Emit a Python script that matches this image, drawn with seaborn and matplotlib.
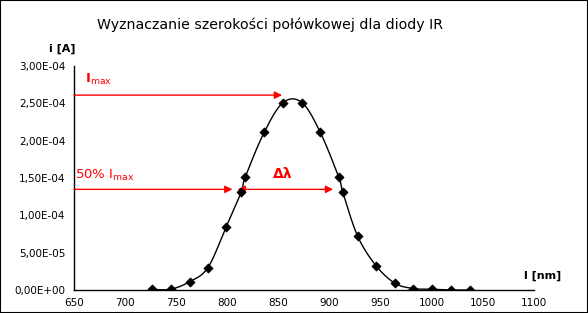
import numpy as np
import pandas as pd
import matplotlib
matplotlib.use("Agg")
import matplotlib.pyplot as plt
from matplotlib.patches import Rectangle
import seaborn as sns

# ---- data ----
wavelength_nm = [726, 744.5, 763, 781, 799, 813.5, 817.5, 836, 854.5, 873,
                 891, 909, 913, 927.5, 945.5, 964, 982, 1000, 1018.5, 1037]
current_A = [1e-6, 1e-6, 1.1e-5, 3.0e-5, 8.5e-5, 1.31e-4, 1.51e-4, 2.11e-4, 2.51e-4, 2.51e-4,
             2.11e-4, 1.51e-4, 1.31e-4, 7.2e-5, 3.25e-5, 9e-6, 2e-6, 1e-6, 0.0, 0.0]
x_ticks = [650, 700, 750, 800, 850, 900, 950, 1000, 1050, 1100]
y_ticks = [0, 5e-5, 1e-4, 1.5e-4, 2e-4, 2.5e-4, 3e-4]
i_max_level = 2.61e-4
half_level = 1.348e-4
half_left_nm = 805
fwhm_start_nm = 810
fwhm_end_nm = 903.5
imax_arrow_end_nm = 853.5

title = "Wyznaczanie szerokości połówkowej dla diody IR"
y_label = "i [A]"
x_label = "l [nm]"

df = pd.DataFrame({"wl": wavelength_nm, "i": current_A})


def catmull_rom(xs, ys, n=16):
    P = np.column_stack([xs, ys]).astype(float)
    out = []
    m = len(P)
    for k in range(m - 1):
        p0 = P[k - 1] if k > 0 else P[k]
        p1, p2 = P[k], P[k + 1]
        p3 = P[k + 2] if k + 2 < m else P[k + 1]
        t = np.linspace(0, 1, n, endpoint=(k == m - 2))[:, None]
        seg = 0.5 * ((2 * p1) + (-p0 + p2) * t + (2 * p0 - 5 * p1 + 4 * p2 - p3) * t ** 2
                     + (-p0 + 3 * p1 - 3 * p2 + p3) * t ** 3)
        out.append(seg)
    S = np.vstack(out)
    return S[:, 0], S[:, 1]


sx, sy = catmull_rom(df["wl"].values, df["i"].values)
smooth = pd.DataFrame({"wl": sx, "i": sy})

sns.set_theme(style="white")
plt.rcParams["font.family"] = ["DejaVu Sans"]
plt.rcParams["text.color"] = "black"

fig = plt.figure(figsize=(5.88, 3.13), dpi=100)
ax = fig.add_axes([74 / 588, 23 / 313, 460 / 588, 224 / 313])

sns.lineplot(data=smooth, x="wl", y="i", ax=ax, color="black", lw=1, sort=False,
             estimator=None)
sns.scatterplot(data=df, x="wl", y="i", ax=ax, color="black", marker="D", s=22,
                edgecolor="black", linewidth=0.5, zorder=5)

ax.set_xlim(650, 1100)
ax.set_ylim(0, 3e-4)
ax.set_xticks(x_ticks)
ax.set_yticks(y_ticks)
ax.set_yticklabels([f"{v:.2E}".replace(".", ",") for v in y_ticks])
ax.set_xlabel("")
ax.set_ylabel("")
for s in ["top", "right"]:
    ax.spines[s].set_visible(False)
for s in ["left", "bottom"]:
    ax.spines[s].set_color("black")
    ax.spines[s].set_linewidth(1)
ax.tick_params(axis="both", which="major", direction="out", length=4, width=1,
               color="black", labelsize=7.5, labelcolor="black", pad=2)

red = "#ff0000"
arrow_kw = dict(color=red, lw=1, shrinkA=0, shrinkB=0, mutation_scale=11)
ax.annotate("", xy=(imax_arrow_end_nm, i_max_level), xytext=(650, i_max_level),
            arrowprops=dict(arrowstyle="-|>", **arrow_kw), annotation_clip=False)
ax.annotate("", xy=(half_left_nm, half_level), xytext=(650, half_level),
            arrowprops=dict(arrowstyle="-|>", **arrow_kw), annotation_clip=False)
ax.annotate("", xy=(fwhm_end_nm, half_level), xytext=(fwhm_start_nm, half_level),
            arrowprops=dict(arrowstyle="<|-|>", **arrow_kw), annotation_clip=False)

ax.text(661, 2.775e-4, r"I$_{\mathrm{max}}$", color=red, fontsize=9.5, fontweight="bold",
        ha="left", va="baseline")
ax.text(651, 1.486e-4, r"50% I$_{\mathrm{max}}$", color=red, fontsize=9.5,
        ha="left", va="baseline")
ax.text(854, 1.50e-4, "Δλ", color=red, fontsize=10, fontweight="bold",
        ha="center", va="baseline")

fig.text(270 / 588, 1 - 25 / 313, title, ha="center", va="center", fontsize=10.2,
         color="black")
fig.text(62 / 588, 1 - 49 / 313, y_label, ha="center", va="center", fontsize=8,
         fontweight="bold", color="black")
fig.text(543 / 588, 1 - 275.5 / 313, x_label, ha="center", va="center", fontsize=8,
         fontweight="bold", color="black")

fig.add_artist(Rectangle((0, 0), 1, 1, transform=fig.transFigure, fill=False,
                         edgecolor="black", lw=1.5))

fig.savefig("out.png", dpi=100, facecolor="white")
